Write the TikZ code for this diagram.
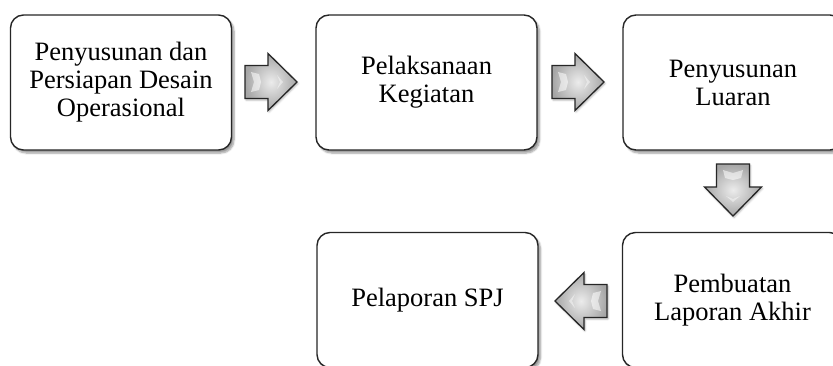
\documentclass[tikz,border=0pt]{standalone}
\usepackage{fontspec}
\setmainfont{Liberation Serif}
\usetikzlibrary{shadows.blur}
\begin{document}
\begin{tikzpicture}[x=1pt,y=-1pt,
  stepbox/.style={draw=black!85,line width=1.4pt,rounded corners=13pt,fill=white,
    minimum width=221pt,minimum height=135pt,align=center,inner sep=0pt,
    font=\fontsize{26.5}{28}\selectfont,
    blur shadow={shadow xshift=2.5pt,shadow yshift=-3pt,shadow blur steps=6,shadow blur extra rounding=1pt,shadow opacity=40}},
  arrowbody/.style={draw=black!85,line width=1.3pt,line join=miter,
    inner color=gray!15,outer color=gray!70,
    blur shadow={shadow xshift=1pt,shadow yshift=-1.5pt,shadow blur steps=4,shadow opacity=30}},
  blockarrow/.pic={
    \path[arrowbody] (-26,-16.5) -- (-3,-16.5) -- (-3,-28.5) -- (26,0) -- (-3,28.5) -- (-3,16.5) -- (-26,16.5) -- cycle;
    \fill[white,opacity=0.55] (-20,-10) -- (-12,-8) -- (-10,0) -- (-12,8) -- (-20,10) -- (-17,0) -- cycle;
    \fill[white,opacity=0.45] (6,-7) -- (12,0) -- (6,7) -- (9,0) -- cycle;
  }
]
\useasboundingbox (0,0) rectangle (833,365);
\node[stepbox] (b1) at (121,82.5) {Penyusunan dan\\Persiapan Desain\\Operasional};
\node[stepbox] (b2) at (426.5,82.5) {Pelaksanaan\\Kegiatan};
\node[stepbox,minimum width=220pt] (b3) at (733,82.5) {Penyusunan\\Luaran};
\node[stepbox] (b4) at (427.5,300) {Pelaporan SPJ};
\node[stepbox,minimum width=220pt] (b5) at (732.5,300) {Pembuatan\\Laporan Akhir};
\coordinate (a1) at (271,82);
\coordinate (a2) at (578,82);
\coordinate (a3) at (733,190);
\coordinate (a4) at (581,301);
\pic at (a1) {blockarrow};
\pic at (a2) {blockarrow};
\pic[rotate=-90] at (a3) {blockarrow};
\pic[rotate=180] at (a4) {blockarrow};
\end{tikzpicture}
\end{document}
